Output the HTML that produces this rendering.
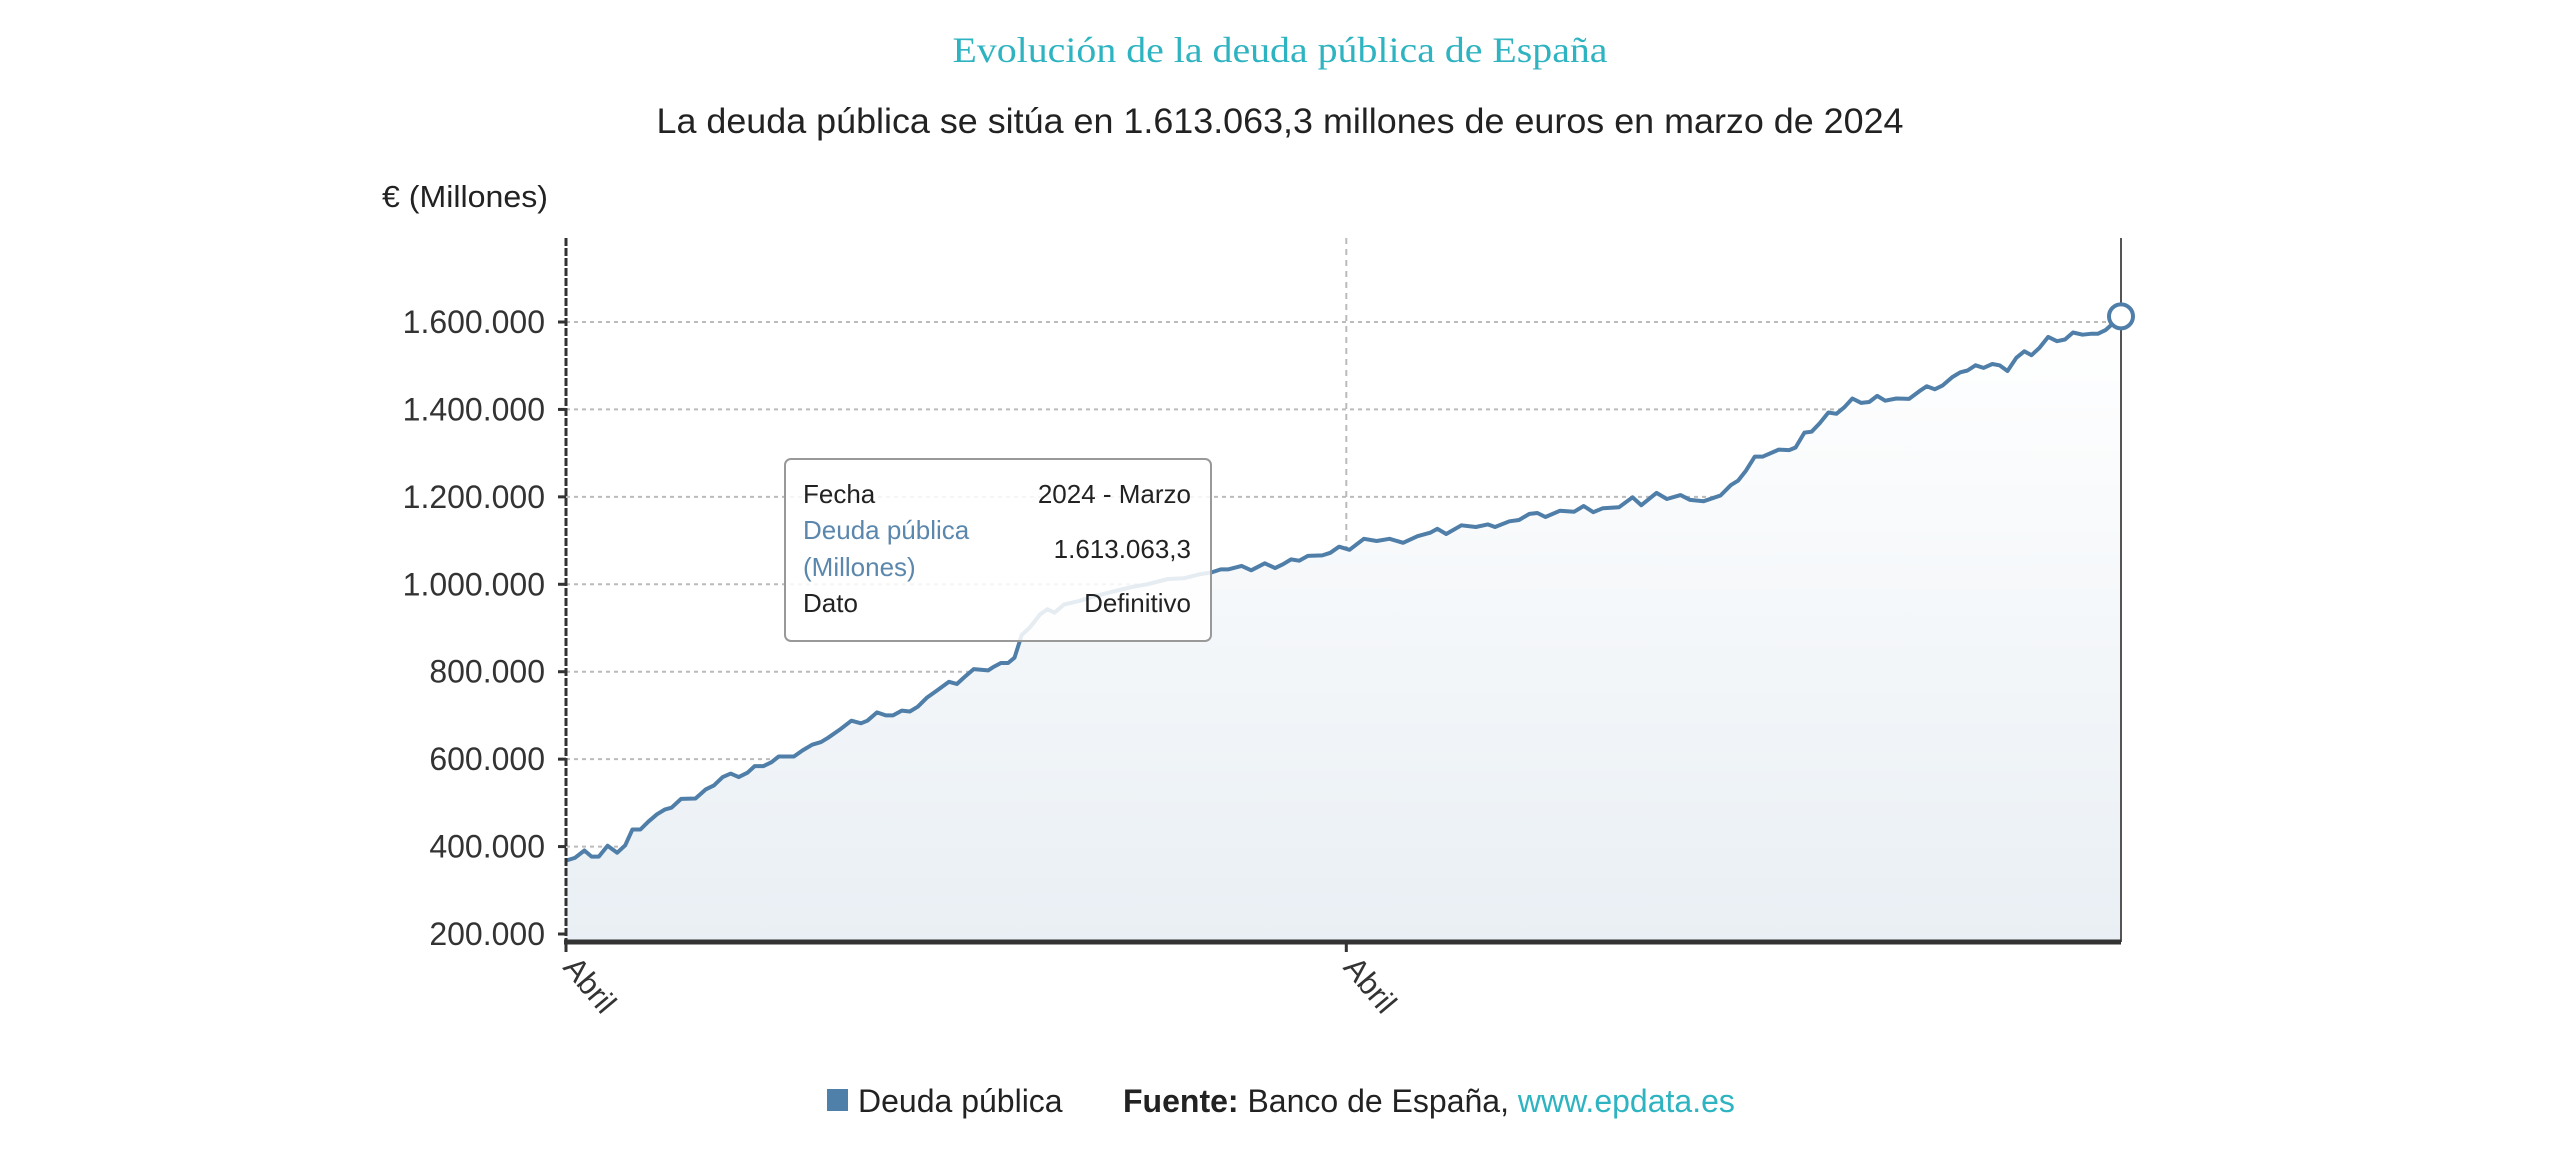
<!DOCTYPE html>
<html><head><meta charset="utf-8"><title>Evolución de la deuda pública de España</title>
<style>html,body{margin:0;padding:0;background:#fff;width:2560px;height:1156px;overflow:hidden}svg{display:block}</style>
</head><body>
<svg id="chart" width="2560" height="1156" viewBox="0 0 2560 1156" xmlns="http://www.w3.org/2000/svg" font-family="Liberation Sans, sans-serif">
<defs>
<linearGradient id="areaGrad" x1="0" y1="0" x2="0" y2="1">
<stop offset="0" stop-color="#ffffff"/><stop offset="1" stop-color="#e9eff4"/>
</linearGradient>
</defs>
<text x="1280" y="62" text-anchor="middle" font-family="Liberation Serif, serif" font-size="36" fill="#2eb3c1" textLength="655" lengthAdjust="spacingAndGlyphs">Evolución de la deuda pública de España</text>
<text x="1280" y="133" text-anchor="middle" font-size="35" fill="#222" textLength="1247" lengthAdjust="spacingAndGlyphs">La deuda pública se sitúa en 1.613.063,3 millones de euros en marzo de 2024</text>
<text x="382" y="207" font-size="31" fill="#222" textLength="166" lengthAdjust="spacingAndGlyphs">€ (Millones)</text>
<g id="grid"></g>
<g id="series"></g>
<g id="axes"></g>
<g>
<rect x="785" y="459" width="426" height="182" rx="6" fill="rgba(255,255,255,0.85)" stroke="#999" stroke-width="2"/>
<text x="803" y="503" font-size="26" fill="#222">Fecha</text>
<text x="1191" y="503" font-size="26" fill="#222" text-anchor="end">2024 - Marzo</text>
<text x="803" y="539" font-size="26" fill="#5b87ad">Deuda pública</text>
<text x="803" y="576" font-size="26" fill="#5b87ad">(Millones)</text>
<text x="1191" y="558" font-size="26" fill="#222" text-anchor="end">1.613.063,3</text>
<text x="803" y="612" font-size="26" fill="#222">Dato</text>
<text x="1191" y="612" font-size="26" fill="#222" text-anchor="end">Definitivo</text>
</g>
<g>
<rect x="827" y="1089" width="21" height="22" fill="#4f80a9"/>
<text x="858" y="1112" font-size="32" fill="#222">Deuda pública</text>
<text x="1123" y="1112" font-size="32" fill="#222"><tspan font-weight="bold">Fuente:</tspan> Banco de España, <tspan fill="#2eb3c1">www.epdata.es</tspan></text>
</g>
</svg>
<script>
const periods = [0,1.1,2.3,3.2,4.1,5.2,6.4,7.4,8.3,9.3,10.3,11.4,12.4,13.2,14.4,16.2,17.5,18.5,19.6,20.6,21.6,22.7,23.6,24.7,25.7,26.6,28.5,29.6,30.8,31.9,32.8,34.2,35.7,36.9,37.7,38.9,40.0,40.9,42.0,43.0,44.0,45.1,46.4,47.9,48.9,49.8,51.0,52.8,53.4,54.4,55.3,56.1,56.5,57.0,58.0,59.3,60.2,61.1,62.3,64.2,66.2,68.8,70.8,72.7,75.3,77.3,79.3,80.7,81.9,82.8,84.5,85.7,87.4,88.7,89.7,90.7,91.7,92.8,94.6,95.6,96.7,
98.0,99.8,101.4,103.0,104.7,106.5,108.1,109.0,110.1,112.0,113.8,115.3,116.2,118.0,119.2,120.5,121.5,122.5,124.3,126.1,127.3,128.5,129.7,131.7,133.4,134.5,136.4,137.7,139.4,140.6,142.3,144.4,145.7,146.6,147.6,148.7,149.7,151.7,153.0,153.8,154.9,155.8,156.8,157.9,158.9,159.9,160.9,162.0,163.0,164.0,165.0,166.4,168.0,169.3,170.2,171.2,172.2,173.4,174.4,175.3,176.3,177.3,178.4,179.3,180.3,181.4,182.4,183.3,184.3,185.4,186.5,187.5,188.5,189.7,190.7,191.6,192.6,194.5];
const debtValues = [368,374,391,377,377,402,386,403,439,439,457,474,485,489,509,510,531,540,559,567,559,569,584,584,593,606,606,620,633,639,649,667,688,682,688,707,700,700,711,709,720,740,757,777,772,787,806,803,810,820,820,832,855,884,901,931,943,935,954,962,973,985,994,1000,1012,1014,1023,1027,1034,1034,1042,1032,1048,1037,1046,1057,1054,1065,1066,1072,1086,
1079,1104,1099,1104,1095,1110,1118,1127,1115,1135,1131,1137,1131,1144,1147,1161,1163,1154,1168,1166,1179,1165,1174,1176,1199,1181,1209,1195,1204,1193,1190,1203,1227,1237,1260,1292,1292,1308,1307,1313,1347,1349,1368,1393,1390,1405,1425,1415,1417,1431,1420,1425,1424,1442,1453,1446,1455,1474,1485,1489,1501,1495,1504,1501,1488,1518,1533,1524,1541,1566,1556,1560,1576,1571,1573,1573,1582,1613];
const yTicks = [200,400,600,800,1000,1200,1400,1600];
const yTickLabels = ["200.000","400.000","600.000","800.000","1.000.000","1.200.000","1.400.000","1.600.000"];
const xTicks = [0,97.6];
const xTickLabels = ["Abril","Abril"];

const NS = "http://www.w3.org/2000/svg";
const L = 566, R = 2121, T = 238, B = 942;
const xMax = 194.5;
function xs(p){ return L + p / xMax * (R - L); }
function ys(v){ return 934 - (v - 200) / 1400 * (934 - 322); }
function mk(tag, attrs, parent){ const e = document.createElementNS(NS, tag); for (const k in attrs) e.setAttribute(k, attrs[k]); parent.appendChild(e); return e; }

const grid = document.getElementById('grid');
const axes = document.getElementById('axes');
const series = document.getElementById('series');

yTicks.forEach((v, i) => {
  const g = mk('line', {x1: L, x2: R, y1: ys(v), y2: ys(v), stroke: '#bbb', 'stroke-width': 2, 'stroke-dasharray': '4 4'}, grid);
  
  
  const tk = mk('line', {x1: L - 8, x2: L, y1: ys(v), y2: ys(v), stroke: '#333', 'stroke-width': 3}, axes);
  
  
  const t = mk('text', {x: 545, y: ys(v) + 11, 'text-anchor': 'end', 'font-size': 32, fill: '#333'}, axes);
  t.textContent = yTickLabels[i];
  
  
});
xTicks.forEach((p, i) => {
  if (p > 0) {
    const g = mk('line', {x1: xs(p), x2: xs(p), y1: T, y2: B, stroke: '#bbb', 'stroke-width': 2, 'stroke-dasharray': '6 5'}, grid);
    
    
  }
  const tk = mk('line', {x1: xs(p), x2: xs(p), y1: B, y2: B + 10, stroke: '#333', 'stroke-width': 3}, axes);
  
  
  const t = mk('text', {x: 0, y: 0, 'font-size': 31, fill: '#333', transform: 'translate(' + (xs(p) - 4) + ',' + (B + 26) + ') rotate(50)'}, axes);
  t.textContent = xTickLabels[i];
  
  
});

let d = '';
periods.forEach((p, i) => { d += (i ? 'L' : 'M') + xs(p).toFixed(1) + ' ' + ys(debtValues[i]).toFixed(1) + ' '; });
const area = mk('path', {d: d + 'L' + xs(periods[periods.length-1]).toFixed(1) + ' ' + B + ' L' + xs(periods[0]).toFixed(1) + ' ' + B + ' Z', fill: 'url(#areaGrad)'}, series);


const line = mk('path', {d: d, fill: 'none', stroke: '#4f7ea8', 'stroke-width': 4, 'stroke-linejoin': 'round'}, series);



const la = mk('line', {x1: L, x2: L, y1: T, y2: B, stroke: '#333', 'stroke-width': 3, 'stroke-dasharray': '8 2'}, axes);


const ra = mk('line', {x1: R, x2: R, y1: T, y2: B, stroke: '#555', 'stroke-width': 2}, axes);


const ba = mk('line', {x1: L - 2, x2: R, y1: B, y2: B, stroke: '#333', 'stroke-width': 5}, axes);



const last = periods.length - 1;
const marker = mk('circle', {cx: xs(periods[last]), cy: ys(debtValues[last]), r: 12, fill: '#fff', stroke: '#4f7ea8', 'stroke-width': 4}, axes);


</script>
</body></html>
